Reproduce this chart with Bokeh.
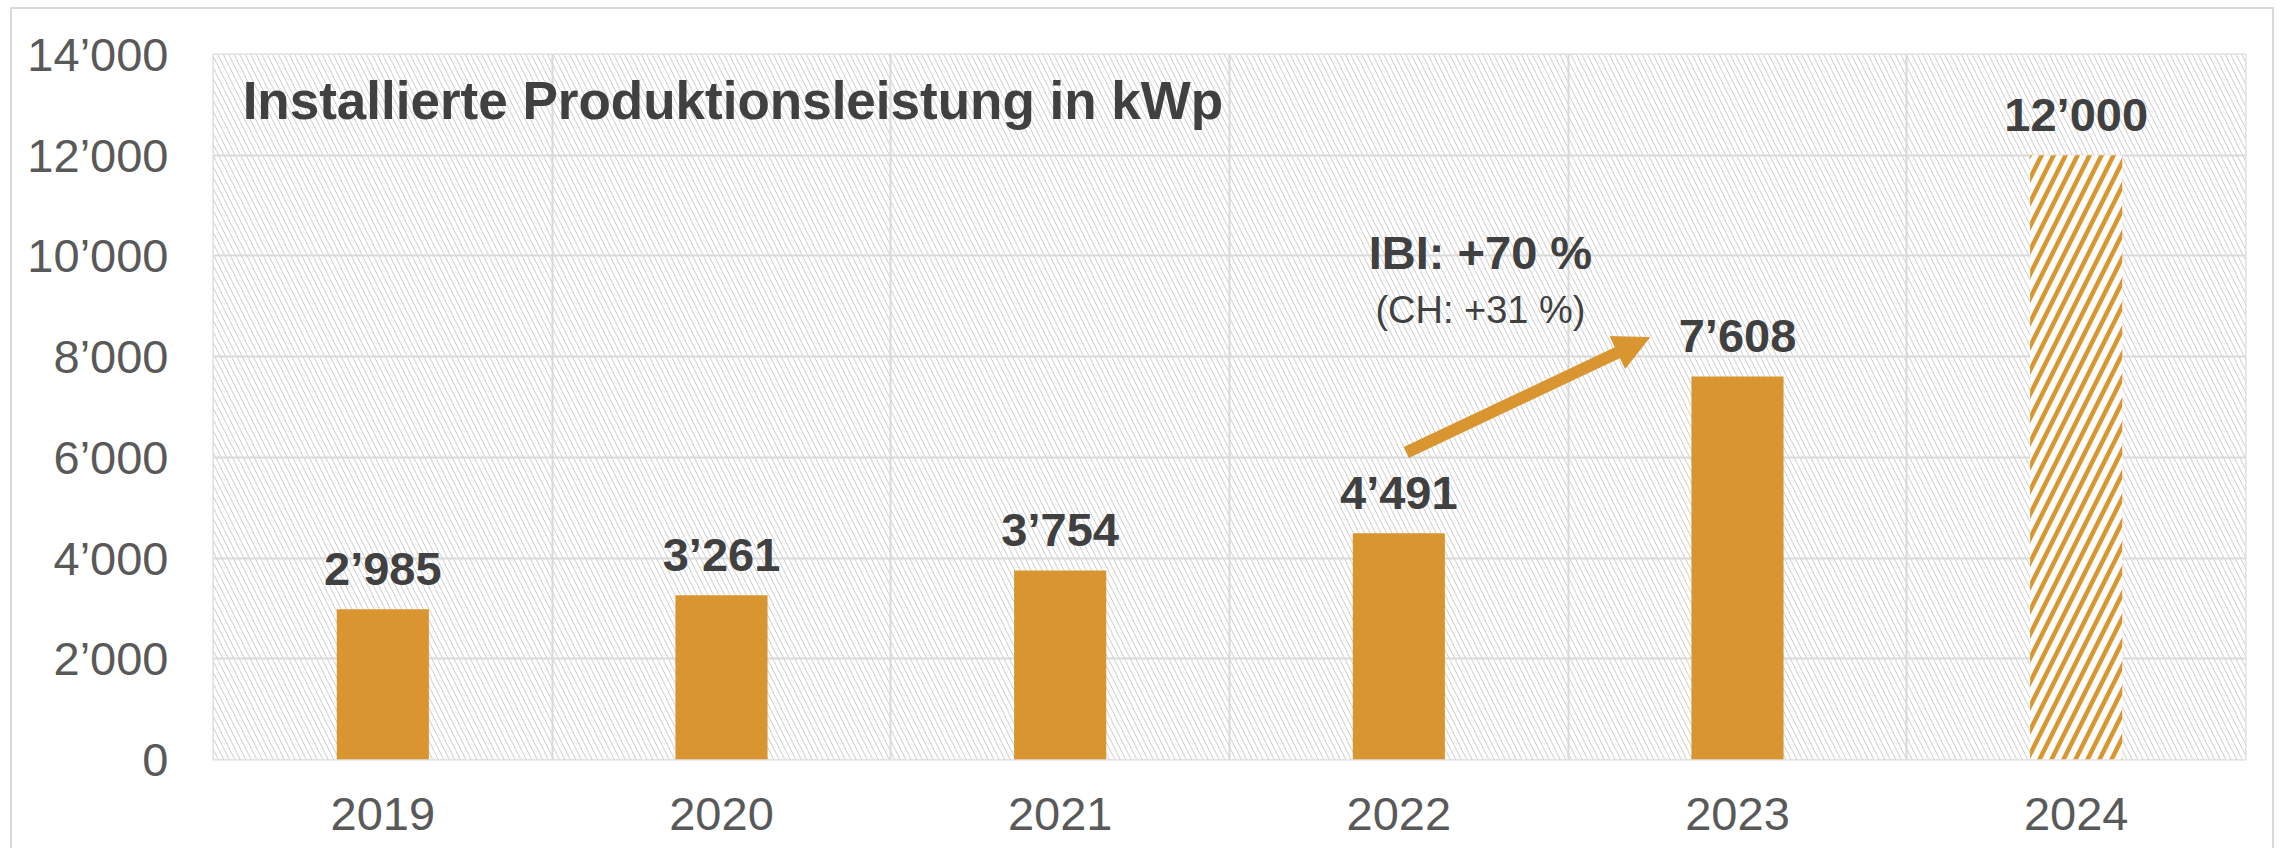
from bokeh.plotting import figure
from bokeh.models import (ColumnDataSource, FixedTicker, BoxAnnotation, Label,
                          Arrow, NormalHead, Range1d)
from bokeh.embed import file_html
from bokeh.resources import INLINE
from bokeh.core.properties import value

# ---------------- data ----------------
years = ["2019", "2020", "2021", "2022", "2023", "2024"]
kwp = [2985, 3261, 3754, 4491, 7608, 12000]
kwp_labels = ["2’985", "3’261", "3’754", "4’491", "7’608", "12’000"]
n_actual = 5  # first five are actual values, last one is the target (hatched)

y_ticks = [0, 2000, 4000, 6000, 8000, 10000, 12000, 14000]
y_tick_labels = ["0", "2’000", "4’000", "6’000", "8’000", "10’000", "12’000", "14’000"]

title_text = "Installierte Produktionsleistung in kWp"
growth_main = "IBI: +70 %"
growth_sub = "(CH: +31 %)"

# annotation anchor points (data coordinates)
arrow_start = (3.522, 6096)
arrow_end = (4.240, 8380)
growth_x = 3.741
growth_main_y = 10060
growth_sub_y = 8930
title_pos = (0.086, 13086)

# ---------------- styles ----------------
ORANGE = "#D9952F"
GRID = "#d9d9d9"
DARK = "#404040"
TICK = "#595959"
FONT = "Liberation Sans"

x_pos = [i + 0.5 for i in range(len(years))]

src_actual = ColumnDataSource(dict(x=x_pos[:n_actual], top=kwp[:n_actual]))
src_plan = ColumnDataSource(dict(x=x_pos[n_actual:], top=kwp[n_actual:]))
src_labels = ColumnDataSource(dict(x=x_pos, top=kwp, label=kwp_labels))

p = figure(width=2282, height=848, output_backend="svg", toolbar_location=None,
           x_range=Range1d(0, len(years)), y_range=Range1d(0, 14000),
           min_border_left=213, min_border_right=37, min_border_top=54,
           min_border_bottom=89)
p.border_fill_color = None
p.background_fill_color = "white"
p.outline_line_color = GRID
p.outline_line_width = 2
p.styles = {"box-shadow": ("inset 10px 0 0 0 #ffffff, inset 0 7px 0 0 #ffffff, "
                           "inset -8px 0 0 0 #ffffff, inset 12px 0 0 0 #d9d9d9, "
                           "inset 0 9px 0 0 #d9d9d9, inset -10px 0 0 0 #d9d9d9")}

# hatched background
p.add_layout(BoxAnnotation(fill_color="white", fill_alpha=1.0, line_color=None,
                           hatch_pattern="\\", hatch_color="#cccccc",
                           hatch_scale=11, hatch_weight=1, hatch_alpha=1.0,
                           level="image"))

# grids
p.xgrid.ticker = FixedTicker(ticks=list(range(1, len(years))))
p.ygrid.ticker = FixedTicker(ticks=y_ticks)
for g in (p.xgrid, p.ygrid):
    g.grid_line_color = GRID
    g.grid_line_width = 2

# axes
p.xaxis.ticker = FixedTicker(ticks=x_pos)
p.xaxis.major_label_overrides = {x: y for x, y in zip(x_pos, years)}
p.yaxis.ticker = FixedTicker(ticks=y_ticks)
p.yaxis.major_label_overrides = {t: l for t, l in zip(y_ticks, y_tick_labels)}
for ax in (p.xaxis, p.yaxis):
    ax.axis_line_color = None
    ax.major_tick_line_color = None
    ax.minor_tick_line_color = None
    ax.major_tick_in = 0
    ax.major_tick_out = 0
    ax.major_label_text_font = FONT
    ax.major_label_text_font_size = "47px"
    ax.major_label_text_color = TICK
p.yaxis.major_label_standoff = 45
p.xaxis.major_label_standoff = 38

# bars
p.vbar(x="x", top="top", width=0.272, source=src_actual,
       fill_color=ORANGE, line_color=None)
p.vbar(x="x", top="top", width=0.272, source=src_plan,
       fill_color="white", line_color=None, hatch_pattern="/",
       hatch_color=ORANGE, hatch_scale=24, hatch_weight=4.5)

# value labels
p.text(x="x", y="top", text="label", source=src_labels,
       text_font=value(FONT), text_font_style="bold", text_font_size="47px",
       text_color=DARK, text_align="center", text_baseline="middle",
       y_offset=-41)

# title inside plot
p.add_layout(Label(x=title_pos[0], y=title_pos[1], text=title_text,
                   text_font=FONT, text_font_style="bold", text_font_size="53px",
                   text_color=DARK, text_baseline="middle"))

# growth annotation
p.add_layout(Label(x=growth_x, y=growth_main_y, text=growth_main,
                   text_font=FONT, text_font_style="bold", text_font_size="47px",
                   text_color=DARK, text_align="center", text_baseline="middle"))
p.add_layout(Label(x=growth_x, y=growth_sub_y, text=growth_sub,
                   text_font=FONT, text_font_size="38px",
                   text_color=DARK, text_align="center", text_baseline="middle"))
p.add_layout(Arrow(x_start=arrow_start[0], y_start=arrow_start[1],
                   x_end=arrow_end[0], y_end=arrow_end[1],
                   line_color=ORANGE, line_width=12,
                   end=NormalHead(size=35, fill_color=ORANGE, line_color=ORANGE,
                                  line_width=1)))

open("out.html", "w").write(file_html(p, INLINE))
